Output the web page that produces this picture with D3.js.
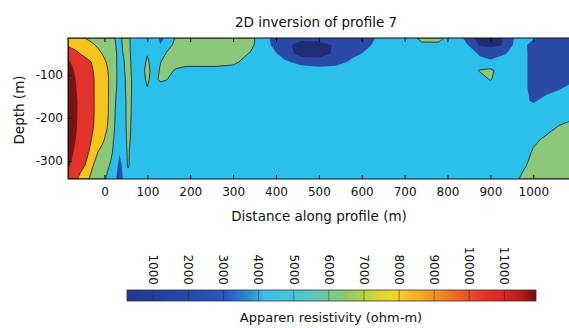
<!DOCTYPE html>
<html>
<head>
<meta charset="utf-8">
<script src="https://cdn.jsdelivr.net/npm/d3@7"></script>
<style>
  body { margin: 0; background: #fff; }
  svg { display: block; font-family: "DejaVu Sans", sans-serif; }
</style>
</head>
<body>
<svg id="chart" width="569" height="328"></svg>
<script>
// grid columns: distance along profile (m)
const distances = [-85, -75, -65, -55, -45, -35, -25, -15, -5, 5, 15, 25, 35, 45, 55, 65,
  75, 85, 100, 115, 130, 145, 165, 190, 225, 260, 300, 340, 380, 420, 460, 500, 540, 580,
  620, 660, 700, 740, 780, 820, 850, 875, 900, 925, 950, 975, 1000, 1030, 1060, 1095];

// grid rows: depth (m)
const depths = [-14, -30, -50, -70, -90, -110, -130, -160, -190, -220, -250, -280, -310, -342];

// apparent resistivity (ohm-m), one row per depth
const rho = [
  // -14
  [7800, 7475, 7150, 6825, 6480, 6254, 6007, 5761, 5514, 5268, 5022, 4750, 3800, 5600, 5600, 3800,
   3500, 3500, 3500, 3500, 2200, 2700, 4900, 5600, 5600, 5600, 5600, 5600, 2600, 1800, 1700, 1800, 1900, 2000,
   2300, 3000, 3300, 5400, 5400, 3300, 1800, 1200, 1100, 1400, 2300, 3200, 2700, 2000, 1900, 1900],
  // -30
  [8100, 7850, 7600, 7350, 7100, 6850, 6600, 6257, 5910, 5563, 5216, 4950, 3900, 5300, 5600, 3900,
   3500, 3500, 3500, 3500, 2550, 3800, 5300, 5600, 5600, 5600, 5600, 5400, 2700, 1700, 1200, 1200, 1600, 1900,
   2450, 3300, 3500, 4400, 4400, 3500, 2400, 1400, 1300, 1450, 2450, 3000, 1800, 1800, 1800, 1800],
  // -50
  [10000, 9444, 8889, 8387, 8010, 7632, 7255, 6877, 6450, 6000, 5500, 5200, 4000, 5000, 5800, 4000,
   3500, 3500, 4650, 3500, 3500, 5000, 5600, 5600, 5600, 5600, 5600, 4700, 3100, 2000, 1100, 1100, 1700, 2200,
   2800, 3500, 3500, 3500, 3500, 3500, 3200, 2300, 2000, 2300, 2700, 3000, 1900, 1900, 1900, 1900],
  // -70
  [10800, 10300, 9900, 9500, 9100, 8700, 8214, 7643, 7071, 6450, 5820, 5140, 4200, 4600, 5900, 4200,
   3500, 3600, 5200, 3600, 4700, 5600, 5600, 5600, 5600, 5600, 5200, 4000, 3500, 2700, 2100, 1900, 2000, 2800,
   3300, 3500, 3500, 3500, 3500, 3500, 3500, 2900, 2700, 3000, 3500, 3000, 1900, 1900, 1900, 1900],
  // -90
  [11300, 10685, 10196, 9761, 9326, 8891, 8443, 7871, 7300, 6729, 6014, 5205, 4200, 4500, 6000, 4300,
   3500, 3700, 5600, 3700, 5000, 5600, 4600, 4000, 4000, 4000, 4000, 3500, 3500, 3300, 3200, 3000, 3200, 3400,
   3500, 3500, 3500, 3500, 3500, 3500, 3500, 5000, 5400, 3600, 3500, 3000, 1900, 1900, 1900, 1900],
  // -110
  [11600, 10953, 10364, 9909, 9455, 9000, 8545, 7986, 7414, 6843, 6122, 5178, 4200, 4000, 6100, 4500,
   3500, 3600, 5300, 3600, 5400, 4900, 3500, 3500, 3500, 3500, 3500, 3500, 3500, 3500, 3500, 3500, 3500, 3500,
   3500, 3500, 3500, 3500, 3500, 3500, 3500, 3500, 5000, 3500, 3500, 3000, 1900, 1900, 1900, 2300],
  // -130
  [11700, 11100, 10480, 10012, 9524, 9037, 8549, 7986, 7414, 6843, 6100, 5100, 4200, 4000, 6100, 4500,
   3500, 3500, 4700, 3500, 3500, 3500, 3500, 3500, 3500, 3500, 3500, 3500, 3500, 3500, 3500, 3500, 3500, 3500,
   3500, 3500, 3500, 3500, 3500, 3500, 3500, 3500, 3500, 3500, 3500, 3000, 1900, 1900, 2300, 3000],
  // -160
  [11800, 11200, 10600, 10090, 9577, 9064, 8551, 7986, 7414, 6843, 6047, 4913, 4000, 3700, 5800, 4500,
   3500, 3500, 3500, 3500, 3500, 3500, 3500, 3500, 3500, 3500, 3500, 3500, 3500, 3500, 3500, 3500, 3500, 3500,
   3500, 3500, 3500, 3500, 3500, 3500, 3500, 3500, 3500, 3500, 3500, 2900, 2300, 3000, 3500, 3500],
  // -190
  [11800, 11200, 10600, 10090, 9577, 9064, 8551, 8000, 7430, 6860, 5933, 4780, 4000, 3700, 5800, 4400,
   3500, 3500, 3500, 3500, 3500, 3500, 3500, 3500, 3500, 3500, 3500, 3500, 3500, 3500, 3500, 3500, 3500, 3500,
   3500, 3500, 3500, 3500, 3500, 3500, 3500, 3500, 3500, 3500, 3500, 3500, 3500, 3500, 3800, 4200],
  // -220
  [11700, 11150, 10550, 10040, 9526, 9013, 8480, 7894, 7288, 6682, 5756, 4694, 4000, 3700, 5700, 4300,
   3500, 3500, 3500, 3500, 3500, 3500, 3500, 3500, 3500, 3500, 3500, 3500, 3500, 3500, 3500, 3500, 3500, 3500,
   3500, 3500, 3500, 3500, 3500, 3500, 3500, 3500, 3500, 3500, 3500, 3500, 3500, 4000, 4900, 5500],
  // -250
  [11500, 11000, 10392, 9851, 9311, 8770, 8167, 7500, 6833, 6114, 5341, 4500, 3600, 3600, 5500, 4100,
   3500, 3500, 3500, 3500, 3500, 3500, 3500, 3500, 3500, 3500, 3500, 3500, 3500, 3500, 3500, 3500, 3500, 3500,
   3500, 3500, 3500, 3500, 3500, 3500, 3500, 3500, 3500, 3500, 3500, 3500, 4300, 5200, 5600, 5700],
  // -280
  [11200, 10662, 10111, 9556, 9000, 8400, 7400, 6453, 5981, 5508, 5036, 4400, 2600, 3500, 5200, 3800,
   3500, 3500, 3500, 3500, 3500, 3500, 3500, 3500, 3500, 3500, 3500, 3500, 3500, 3500, 3500, 3500, 3500, 3500,
   3500, 3500, 3500, 3500, 3500, 3500, 3500, 3500, 3500, 3500, 3500, 3500, 5100, 5600, 5700, 5800],
  // -310
  [10800, 10214, 9643, 9071, 8480, 7611, 6413, 5977, 5541, 5105, 4650, 3400, 2000, 3000, 5100, 3800,
   3500, 3500, 3500, 3500, 3500, 3500, 3500, 3500, 3500, 3500, 3500, 3500, 3500, 3500, 3500, 3500, 3500, 3500,
   3500, 3500, 3500, 3500, 3500, 3500, 3500, 3500, 3500, 3500, 3500, 4300, 5600, 5800, 5800, 5800],
  // -342
  [10000, 9182, 8636, 7860, 7060, 6373, 5948, 5523, 5098, 4673, 3800, 2700, 1800, 2700, 3500, 3500,
   3500, 3500, 3500, 3500, 3500, 3500, 3500, 3500, 3500, 3500, 3500, 3500, 3500, 3500, 3500, 3500, 3500, 3500,
   3500, 3500, 3500, 3500, 3500, 3500, 3500, 3500, 3500, 3500, 3800, 5300, 5800, 5800, 5800, 5800]
];

// contour levels and fill colours (first colour is below the lowest level)
const levels = [1500, 2500, 4800, 6500, 8500, 10500];
const levelColors = ['#202d76', '#2b4aa8', '#2bbfec', '#8dc77a', '#f6c41d', '#e4332b', '#7b1313'];
const lineLevels = [4800, 6500, 8500];

const xTicks = [0, 100, 200, 300, 400, 500, 600, 700, 800, 900, 1000];
const yTicks = [-100, -200, -300];
const cbTicks = [1000, 2000, 3000, 4000, 5000, 6000, 7000, 8000, 9000, 10000, 11000];

// colour bar gradient
const cbStopValues = [250, 2000, 3000, 3700, 4200, 5000, 5800, 6500, 7200, 7800, 8200, 9000, 9600, 10300, 11000, 11500, 11900];
const cbStopColors = ['#1f3890', '#2449aa', '#2756bb', '#2f86d4', '#3fc0e6', '#48c4d6', '#6ac6a8', '#8fca6a',
  '#c8d43a', '#f0d82a', '#f8c022', '#f49622', '#f06a24', '#e83826', '#de2222', '#b41a18', '#6e1010'];

const svg = d3.select("#chart");

const x = d3.scaleLinear().domain([-85, 1095]).range([68, 574]);
const y = d3.scaleLinear().domain([-14, -342]).range([38, 179]);
const c = d3.scaleLinear().domain([250, 11900]).range([127, 536]);

// plain integer labels with a hyphen minus
const plain = d => String(d);

// clip to plot frame
svg.append("clipPath").attr("id", "plotClip")
  .append("rect")
  .attr("x", x(-85)).attr("y", y(-14))
  .attr("width", x(1095) - x(-85)).attr("height", y(-342) - y(-14));

const plot = svg.append("g").attr("clip-path", "url(#plotClip)");

// base colour (below lowest level)
plot.append("rect")
  .attr("x", x(-85)).attr("y", y(-14))
  .attr("width", x(1095) - x(-85)).attr("height", y(-342) - y(-14))
  .attr("fill", levelColors[0]);

// contours on the grid, then grid index -> data -> pixels
const nx = distances.length, ny = depths.length;
const contours = d3.contours().size([nx, ny]).thresholds(levels)(rho.flat());

const gx = d3.scaleLinear()
  .domain(distances.map((d, i) => i + 0.5))
  .range(distances.map(d => x(d)))
  .clamp(true);
const gy = d3.scaleLinear()
  .domain(depths.map((d, i) => i + 0.5))
  .range(depths.map(d => y(d)))
  .clamp(true);

const path = d3.geoPath(d3.geoTransform({
  point(px, py) { this.stream.point(gx(px), gy(py)); }
}));

plot.selectAll("path.fill")
  .data(contours)
  .enter()
  .append("path")
  .attr("class", "fill")
  .attr("d", path)
  .attr("fill", d => levelColors[levels.indexOf(d.value) + 1]);

plot.selectAll("path.line")
  .data(contours.filter(d => lineLevels.includes(d.value)))
  .enter()
  .append("path")
  .attr("class", "line")
  .attr("d", path)
  .attr("fill", "none")
  .attr("stroke", "#1a1a1a")
  .attr("stroke-width", 0.8);

// axes with inward ticks
const axisFont = g => g.selectAll("text")
  .style("font-family", "DejaVu Sans, sans-serif")
  .style("font-size", "12px")
  .attr("fill", "#111");

svg.append("g")
  .attr("transform", "translate(0," + y(-342) + ")")
  .call(d3.axisBottom(x).tickValues(xTicks).tickSize(-4).tickPadding(8).tickFormat(plain))
  .call(g => g.select(".domain").remove())
  .call(axisFont);

svg.append("g")
  .attr("transform", "translate(0," + y(-14) + ")")
  .call(d3.axisTop(x).tickValues(xTicks).tickSize(-4).tickFormat(""))
  .call(g => g.select(".domain").remove());

svg.append("g")
  .attr("transform", "translate(" + x(-85) + ",0)")
  .call(d3.axisLeft(y).tickValues(yTicks).tickSize(-4).tickPadding(5).tickFormat(plain))
  .call(g => g.select(".domain").remove())
  .call(axisFont);

svg.append("g")
  .attr("transform", "translate(" + x(1095) + ",0)")
  .call(d3.axisRight(y).tickValues(yTicks).tickSize(-4).tickFormat(""))
  .call(g => g.select(".domain").remove());

// frame
svg.append("rect")
  .attr("x", x(-85)).attr("y", y(-14))
  .attr("width", x(1095) - x(-85)).attr("height", y(-342) - y(-14))
  .attr("fill", "none")
  .attr("stroke", "#111")
  .attr("stroke-width", 1);

// title and axis labels
svg.append("text")
  .attr("x", 316).attr("y", 27)
  .attr("text-anchor", "middle")
  .style("font-size", "13.5px")
  .attr("fill", "#111")
  .text("2D inversion of profile 7");

svg.append("text")
  .attr("x", 319).attr("y", 221)
  .attr("text-anchor", "middle")
  .style("font-size", "13.5px")
  .attr("fill", "#111")
  .text("Distance along profile (m)");

svg.append("text")
  .attr("transform", "translate(24,110) rotate(-90)")
  .attr("text-anchor", "middle")
  .style("font-size", "13.5px")
  .attr("fill", "#111")
  .text("Depth (m)");

// colour bar
const grad = svg.append("defs").append("linearGradient")
  .attr("id", "cbGrad")
  .attr("x1", "0%").attr("x2", "100%").attr("y1", "0%").attr("y2", "0%");
grad.selectAll("stop")
  .data(cbStopValues)
  .enter()
  .append("stop")
  .attr("offset", d => ((c(d) - c(250)) / (c(11900) - c(250)) * 100) + "%")
  .attr("stop-color", (d, i) => cbStopColors[i]);

svg.append("rect")
  .attr("x", c(250)).attr("y", 290)
  .attr("width", c(11900) - c(250)).attr("height", 11)
  .attr("fill", "url(#cbGrad)")
  .attr("stroke", "#333")
  .attr("stroke-width", 0.8);

svg.selectAll("line.cbtick")
  .data(cbTicks)
  .enter()
  .append("line")
  .attr("class", "cbtick")
  .attr("x1", d => c(d)).attr("x2", d => c(d))
  .attr("y1", 290).attr("y2", 301)
  .attr("stroke", "#222")
  .attr("stroke-opacity", 0.6)
  .attr("stroke-width", 0.8);

svg.selectAll("text.cblabel")
  .data(cbTicks)
  .enter()
  .append("text")
  .attr("class", "cblabel")
  .attr("transform", d => "translate(" + c(d) + ",285) rotate(90)")
  .attr("text-anchor", "end")
  .attr("dy", "0.35em")
  .style("font-size", "12px")
  .attr("fill", "#111")
  .text(d => d);

svg.append("text")
  .attr("x", 331).attr("y", 322)
  .attr("text-anchor", "middle")
  .style("font-size", "13px")
  .attr("fill", "#111")
  .text("Apparen resistivity (ohm-m)");
</script>
</body>
</html>
